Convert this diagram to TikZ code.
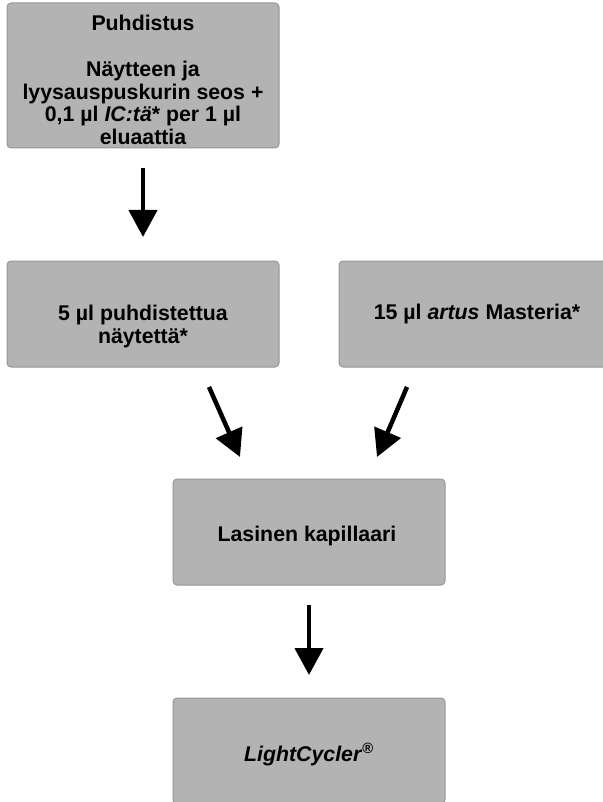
\documentclass[tikz,border=0pt]{standalone}
\usepackage{fontspec}
\setmainfont{Liberation Sans}
\usetikzlibrary{arrows.meta}
\definecolor{boxfill}{RGB}{179,179,179}
\definecolor{boxline}{RGB}{150,150,150}
\begin{document}
\begin{tikzpicture}[x=1pt,y=-1pt,
  box/.style={draw=boxline, fill=boxfill, line width=1pt, rounded corners=4pt,
    minimum width=272pt, inner sep=0pt, outer sep=0pt},
  lbl/.style={inner sep=0pt, outer sep=0pt, align=center,
    font=\fontsize{21.3}{22.6}\selectfont\bfseries},
  arr/.style={line width=4.5pt, -{Triangle[width=28pt,length=27pt]}}]
\useasboundingbox (0,0) rectangle (602,802);
\node[box, minimum height=145pt] (b1) at (143,75.5) {};
\node[box, minimum height=106pt] (b2) at (143,314) {};
\node[box, minimum height=106pt] (b3) at (475,314) {};
\node[box, minimum height=106pt] (b4) at (309,532) {};
\node[box, minimum height=106pt] (b5) at (309,751) {};
\node[lbl, anchor=north] (t1) at (143,15.3) {Puhdistus\\[23.4pt]Näytteen ja\\lyysauspuskurin seos +\\0,1 µl \textit{IC:tä}* per 1 µl\\eluaattia};
\node[lbl, anchor=north] (t2) at (143,305.3) {5 µl puhdistettua\\näytettä*};
\node[lbl, anchor=base] (t3) at (477,319) {15 µl \textit{artus} Masteria*};
\node[lbl, anchor=base] (t4) at (307,541) {Lasinen kapillaari};
\node[lbl, anchor=base] (t5) at (309,761) {\textit{LightCycler}\textsuperscript{®}};
\draw[arr] ([shift={(0,20)}]b1.south) -- ([shift={(0,-24)}]b2.north);
\draw[arr] ([shift={(66,20)}]b2.south) -- ([shift={(-69,-22)}]b4.north);
\draw[arr] ([shift={(-68,20)}]b3.south) -- ([shift={(68,-22)}]b4.north);
\draw[arr] ([shift={(0,20)}]b4.south) -- ([shift={(0,-23)}]b5.north);
\end{tikzpicture}
\end{document}
